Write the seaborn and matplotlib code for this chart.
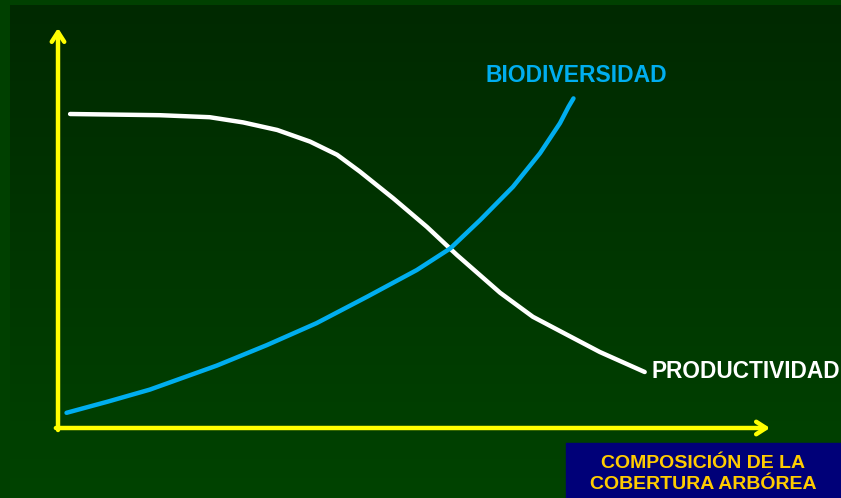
import numpy as np
import pandas as pd
import matplotlib
matplotlib.use("Agg")
import matplotlib.pyplot as plt
import matplotlib.patches as mpatches
from matplotlib.colors import LinearSegmentedColormap
import seaborn as sns

# datos (x = cobertura, y = valor relativo, 0-100)
prod_x = [1.7, 14.3, 21.3, 26.0, 30.8, 35.4, 39.2, 42.4, 47.1, 51.8, 56.0,
          62.1, 66.7, 71.5, 76.1, 82.4]
prod_y = [78.5, 78.2, 77.7, 76.4, 74.5, 71.6, 68.3, 64.1, 57.4, 50.3, 43.3,
          33.8, 27.8, 23.3, 19.0, 14.0]
bio_x = [1.2, 7.0, 12.9, 22.3, 29.3, 36.3, 43.4, 50.4, 55.1, 59.3, 63.9, 67.7,
         70.5, 71.7, 72.4]
bio_y = [3.8, 6.6, 9.6, 15.6, 20.7, 26.2, 32.8, 39.5, 44.9, 52.0, 60.3, 68.7,
         76.2, 80.3, 82.4]
labels = ["PRODUCTIVIDAD", "BIODIVERSIDAD"]
xlabel = "COMPOSICIÓN DE LA\nCOBERTURA ARBÓREA"

sns.set_style("white")
plt.rcParams['font.family'] = ['Liberation Sans', 'DejaVu Sans']

fig = plt.figure(figsize=(8.41, 4.98), dpi=100)
fig.patch.set_facecolor("#004000")

# fondo con degradado
bg = fig.add_axes([10 / 841, 0, 831 / 841, 493 / 498])
cmap = LinearSegmentedColormap.from_list("fondo", ["#002900", "#004300"])
bg.imshow(np.linspace(0, 1, 256).reshape(-1, 1), aspect="auto", cmap=cmap,
          extent=[0, 1, 1, 0])
bg.axis("off")

ax = fig.add_axes([58 / 841, 70 / 498, 712 / 841, 400 / 498])
ax.set_xlim(0, 100)
ax.set_ylim(0, 100)
ax.patch.set_alpha(0)
for s in ax.spines.values():
    s.set_visible(False)
ax.set_xticks([])
ax.set_yticks([])

df_prod = pd.DataFrame({"x": prod_x, "y": prod_y})
df_bio = pd.DataFrame({"x": bio_x, "y": bio_y})
sns.lineplot(data=df_prod, x="x", y="y", ax=ax, color="white", lw=3.2, sort=False)
sns.lineplot(data=df_bio, x="x", y="y", ax=ax, color="#00AEEF", lw=3.2, sort=False)
ax.set_xlabel("")
ax.set_ylabel("")

# ejes con flecha
arrow = dict(arrowstyle="->,head_length=0.7,head_width=0.45", color="#FFFF00",
             lw=3.2, shrinkA=0, shrinkB=0)
ax.annotate("", xy=(0, 1.0), xytext=(0, -0.005), xycoords="axes fraction", arrowprops=arrow)
ax.annotate("", xy=(1.0, 0), xytext=(-0.003, 0), xycoords="axes fraction", arrowprops=arrow)

ax.text(prod_x[-1] + 0.9, prod_y[-1], labels[0], color="white", fontsize=16.3,
        fontweight="bold", va="center", ha="left", clip_on=False)
ax.text(bio_x[-1] - 12.4, bio_y[-1] + 5.7, labels[1], color="#00AEEF", fontsize=16.5,
        fontweight="bold", va="center", ha="left", clip_on=False)

# caja inferior
fig.patches.append(mpatches.Rectangle((566 / 841, 0), 275 / 841, 55 / 498,
                                      transform=fig.transFigure, color="#000078", zorder=5))
fig.text((566 + 841) / 2 / 841, 24 / 498, xlabel, color="#FFCC00", fontsize=14,
         fontweight="bold", ha="center", va="center", linespacing=1.25, zorder=6)

fig.savefig("out.png", dpi=100, facecolor=fig.get_facecolor())
